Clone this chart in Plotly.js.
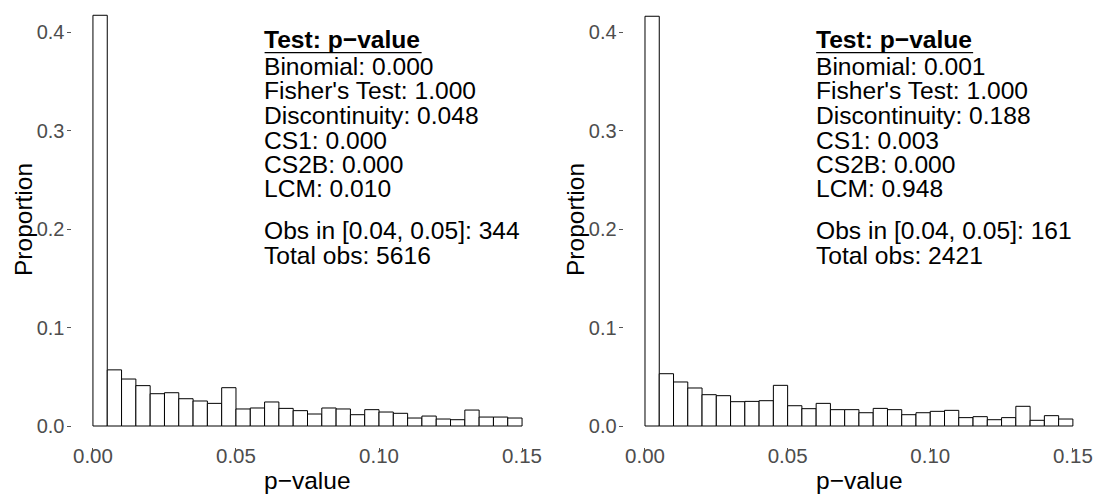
<!DOCTYPE html>
<html>
<head>
<meta charset="utf-8">
<script src="https://cdn.plot.ly/plotly-3.0.1.min.js"></script>
<style>html,body{margin:0;padding:0;background:#fff;}#chart{width:1094px;height:494px;}</style>
</head>
<body>
<div id="chart"></div>
<script>
// ---- data ----
const BIN_WIDTH = 0.005;
const BIN_START = 0;
const leftProportions = [0.417, 0.057, 0.0477, 0.041, 0.0328, 0.0338, 0.0277, 0.0254, 0.023, 0.0389,
  0.0173, 0.0183, 0.0244, 0.0179, 0.0156, 0.0122, 0.0183, 0.0173, 0.0115, 0.0166,
  0.0142, 0.0129, 0.0081, 0.0101, 0.0071, 0.0064, 0.0162, 0.0091, 0.0091, 0.0081];
const rightProportions = [0.416, 0.0531, 0.0447, 0.0386, 0.0318, 0.0308, 0.0247, 0.025, 0.0257, 0.0413,
  0.0206, 0.0176, 0.023, 0.0166, 0.0166, 0.0135, 0.0179, 0.0166, 0.0115, 0.0135,
  0.0149, 0.0159, 0.0085, 0.0095, 0.0064, 0.0085, 0.02, 0.0058, 0.0105, 0.0071];
const testNames = ["Binomial", "Fisher's Test", "Discontinuity", "CS1", "CS2B", "LCM"];
const leftPvalues = ["0.000", "1.000", "0.048", "0.000", "0.000", "0.010"];
const rightPvalues = ["0.001", "1.000", "0.188", "0.003", "0.000", "0.948"];
const obsWindow = "[0.04, 0.05]";
const leftObsInWindow = 344, leftTotalObs = 5616;
const rightObsInWindow = 161, rightTotalObs = 2421;
const xTickVals = [0, 0.05, 0.10, 0.15];
const yTickVals = [0, 0.1, 0.2, 0.3, 0.4];
const headerText = "Test: p\u2212value";
const xTitle = "p\u2212value";
const yTitle = "Proportion";

// ---- build ----
const binLefts = leftProportions.map((_, i) => BIN_START + i * BIN_WIDTH);
const FONT = "Liberation Sans, Arial, sans-serif";
const TXT = 24.6;

function barTrace(vals, xa, ya) {
  return {
    type: 'bar', x: binLefts, y: vals, width: BIN_WIDTH, offset: 0,
    xaxis: xa, yaxis: ya,
    marker: {color: '#ffffff', line: {color: '#000000', width: 1}},
    hoverinfo: 'x+y', showlegend: false
  };
}

const W = 1094, H = 494;
const py = p => 1 - p / H;
const TX = 0.0592;

function textAnnots(xref, pvals, obsIn, total) {
  const ys = [66.7, 90.7, 115.7, 140, 164, 188.3];
  const f = {family: FONT, size: TXT, color: '#000'};
  const out = [];
  out.push({xref: xref, yref: 'paper', x: TX, y: py(40), xanchor: 'left', yanchor: 'middle',
    text: '<b>' + headerText + '</b>', showarrow: false, font: f});
  testNames.forEach((n, i) => {
    out.push({xref: xref, yref: 'paper', x: TX, y: py(ys[i]), xanchor: 'left', yanchor: 'middle',
      text: n + ': ' + pvals[i], showarrow: false, font: f});
  });
  out.push({xref: xref, yref: 'paper', x: TX, y: py(230.7), xanchor: 'left', yanchor: 'middle',
    text: 'Obs in ' + obsWindow + ': ' + obsIn, showarrow: false, font: f});
  out.push({xref: xref, yref: 'paper', x: TX, y: py(255), xanchor: 'left', yanchor: 'middle',
    text: 'Total obs: ' + total, showarrow: false, font: f});
  return out;
}

function titleAnnots(xCenterPx, yCenterPx) {
  const f = {family: FONT, size: 24.5, color: '#000'};
  return [
    {xref: 'paper', yref: 'paper', x: xCenterPx / W, y: py(480), xanchor: 'center', yanchor: 'middle',
      text: xTitle, showarrow: false, font: f},
    {xref: 'paper', yref: 'paper', x: yCenterPx / W, y: py(220), xanchor: 'center', yanchor: 'middle',
      text: yTitle, textangle: -90, showarrow: false, font: f}
  ];
}

function xAxis(domain, anchor, rng) {
  return {
    domain: domain, anchor: anchor, range: rng, autorange: false,
    tickvals: xTickVals, tickformat: '.2f',
    ticks: 'outside', ticklen: 3, tickwidth: 1, tickcolor: '#555',
    ticklabelstandoff: -12,
    tickfont: {family: FONT, size: 20.5, color: '#4d4d4d'},
    showgrid: false, zeroline: false, showline: false, automargin: false
  };
}
function yAxis(domain, anchor) {
  return {
    domain: domain, anchor: anchor, range: [-0.0209, 0.4325], autorange: false,
    tickvals: yTickVals, tickformat: '.1f',
    ticks: 'outside', ticklen: 4, tickwidth: 1, tickcolor: '#555',
    ticklabelstandoff: -2,
    tickfont: {family: FONT, size: 20, color: '#4d4d4d'},
    showgrid: false, zeroline: false, showline: false, automargin: false
  };
}

const yDom = [(H - 446.6) / H, 1];
const layout = {
  width: W, height: H,
  margin: {l: 0, r: 0, t: 0, b: 0, pad: 0},
  paper_bgcolor: '#fff', plot_bgcolor: '#fff',
  bargap: 0, showlegend: false,
  xaxis: xAxis([71.5 / W, 543.5 / W], 'y', [-0.0075, 0.1575]),
  yaxis: yAxis(yDom, 'x'),
  xaxis2: xAxis([623.6 / W, 1], 'y2', [-0.0075, 0.1574]),
  yaxis2: yAxis(yDom, 'x2'),
  annotations: textAnnots('x', leftPvalues, leftObsInWindow, leftTotalObs)
    .concat(textAnnots('x2', rightPvalues, rightObsInWindow, rightTotalObs))
    .concat(titleAnnots(307.5, 23))
    .concat(titleAnnots(859, 575)),
  shapes: [
    {type: 'line', xref: 'x', yref: 'paper', x0: 0.06, x1: 0.06 + 157 / 2860, y0: py(52.7), y1: py(52.7), line: {color: '#000', width: 1.2}},
    {type: 'line', xref: 'x2', yref: 'paper', x0: 0.06, x1: 0.06 + 157 / 2853, y0: py(52.7), y1: py(52.7), line: {color: '#000', width: 1.2}}
  ]
};

Plotly.newPlot('chart', [barTrace(leftProportions, 'x', 'y'), barTrace(rightProportions, 'x2', 'y2')], layout,
  {displayModeBar: false, staticPlot: true});
</script>
</body>
</html>
